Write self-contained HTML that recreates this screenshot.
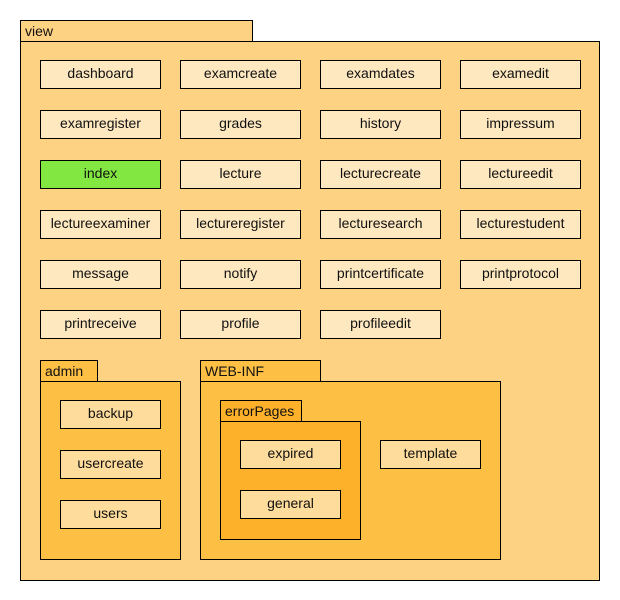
<!DOCTYPE html>
<html><head><style>
body{margin:0;width:620px;height:600px;background:#fff;position:relative;font-family:"Liberation Sans",sans-serif;overflow:hidden}
div{position:absolute;box-sizing:border-box;border:1px solid #000}
.b{background:#fee8c0;text-align:center;font-size:14px;line-height:24px;color:#111;width:121px;height:29px}
.s{width:101px;background:#fedc9c}
.t{font-size:14px;line-height:20px;padding-left:4px;color:#111}
</style></head><body>
<div class="t" style="left:20px;top:20px;width:233px;height:22px;background:#fed283">view</div>
<div style="left:20px;top:41px;width:580px;height:540px;background:#fed283"></div>

<div class="b" style="left:40px;top:60px">dashboard</div>
<div class="b" style="left:180px;top:60px">examcreate</div>
<div class="b" style="left:320px;top:60px">examdates</div>
<div class="b" style="left:460px;top:60px">examedit</div>
<div class="b" style="left:40px;top:110px">examregister</div>
<div class="b" style="left:180px;top:110px">grades</div>
<div class="b" style="left:320px;top:110px">history</div>
<div class="b" style="left:460px;top:110px">impressum</div>
<div class="b" style="left:40px;top:160px;background:#82e841">index</div>
<div class="b" style="left:180px;top:160px">lecture</div>
<div class="b" style="left:320px;top:160px">lecturecreate</div>
<div class="b" style="left:460px;top:160px">lectureedit</div>
<div class="b" style="left:40px;top:210px">lectureexaminer</div>
<div class="b" style="left:180px;top:210px">lectureregister</div>
<div class="b" style="left:320px;top:210px">lecturesearch</div>
<div class="b" style="left:460px;top:210px">lecturestudent</div>
<div class="b" style="left:40px;top:260px">message</div>
<div class="b" style="left:180px;top:260px">notify</div>
<div class="b" style="left:320px;top:260px">printcertificate</div>
<div class="b" style="left:460px;top:260px">printprotocol</div>
<div class="b" style="left:40px;top:310px">printreceive</div>
<div class="b" style="left:180px;top:310px">profile</div>
<div class="b" style="left:320px;top:310px">profileedit</div>

<div class="t" style="left:40px;top:360px;width:58px;height:22px;background:#febf45">admin</div>
<div style="left:40px;top:381px;width:141px;height:179px;background:#febf45"></div>
<div class="b s" style="left:60px;top:400px">backup</div>
<div class="b s" style="left:60px;top:450px">usercreate</div>
<div class="b s" style="left:60px;top:500px">users</div>

<div class="t" style="left:200px;top:360px;width:121px;height:22px;background:#febf45">WEB-INF</div>
<div style="left:200px;top:381px;width:301px;height:179px;background:#febf45"></div>
<div class="t" style="left:220px;top:400px;width:82px;height:22px;background:#fdb12a">errorPages</div>
<div style="left:220px;top:421px;width:141px;height:119px;background:#fdb12a"></div>
<div class="b s" style="left:240px;top:440px">expired</div>
<div class="b s" style="left:240px;top:490px">general</div>
<div class="b s" style="left:380px;top:440px">template</div>
</body></html>
